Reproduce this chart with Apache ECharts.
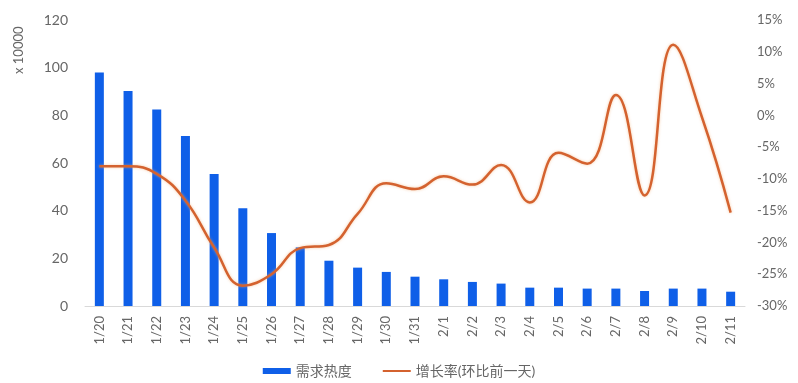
<!DOCTYPE html>
<html>
<head>
<meta charset="utf-8">
<script src="https://cdn.jsdelivr.net/npm/echarts@6/dist/echarts.min.js"></script>
<style>
  html, body { margin: 0; padding: 0; background: #fff; }
  #chart { width: 798px; height: 383px; }
</style>
</head>
<body>
<div id="chart"></div>
<script>
// dates on the x axis
const days = ['1/20','1/21','1/22','1/23','1/24','1/25','1/26','1/27','1/28','1/29','1/30','1/31',
              '2/1','2/2','2/3','2/4','2/5','2/6','2/7','2/8','2/9','2/10','2/11'];

// 需求热度, x 10000
const demand = [98, 90.2, 82.5, 71.3, 55.4, 41, 30.6, 24.6, 19, 16.1, 14.3, 12.3,
                11.2, 10.1, 9.4, 7.7, 7.7, 7.3, 7.3, 6.3, 7.3, 7.3, 6.0];

// 增长率(环比前一天), percent
const growth = [-8.0, -8.0, -9.2, -13.4, -20.8, -26.8, -25.0, -20.9, -20.4, -15.5, -10.7, -11.6,
                -9.6, -10.9, -7.8, -13.7, -5.9, -7.6, 3.2, -12.6, 11.1, -0.3, -15.3];

const barColor = '#0f5fe8';
const lineColor = '#d4622f';
const textColor = '#666';
const fontFam = 'Lato, "Noto Sans CJK SC", sans-serif';

const chart = echarts.init(document.getElementById('chart'));

const option = {
    animation: false,
    textStyle: { fontFamily: fontFam },
    grid: { left: 85, right: 53, top: 20, bottom: 77 },
    legend: {
        bottom: 0,
        left: 'center',
        itemGap: 30,
        itemWidth: 28,
        itemHeight: 6,
        textStyle: { color: textColor, fontSize: 14 },
        data: [
            { name: '需求热度', icon: 'rect' },
            { name: '增长率(环比前一天)', itemStyle: { opacity: 0 } }
        ]
    },
    graphic: [{
        type: 'text',
        x: 12,
        y: 74,
        rotation: Math.PI / 2,
        style: { text: 'x 10000', fill: textColor, fontSize: 13, fontFamily: fontFam }
    }],
    xAxis: {
        type: 'category',
        data: days,
        axisLine: { lineStyle: { color: '#d9d9d9' } },
        axisTick: { show: false },
        axisLabel: { rotate: 90, color: textColor, fontSize: 13, margin: 10, interval: 0 }
    },
    yAxis: [
        {
            type: 'value',
            min: 0, max: 120, interval: 20,
            splitLine: { show: false },
            axisLine: { show: false },
            axisTick: { show: false },
            axisLabel: { color: textColor, fontSize: 14, margin: 17 }
        },
        {
            type: 'value',
            min: -30, max: 15, interval: 5,
            splitLine: { show: false },
            axisLine: { show: false },
            axisTick: { show: false },
            axisLabel: { color: textColor, fontSize: 13, margin: 12, formatter: '{value}%' }
        }
    ],
    series: [
        {
            name: '需求热度',
            type: 'bar',
            data: demand,
            barWidth: 9,
            itemStyle: { color: barColor }
        },
        {
            name: '增长率(环比前一天)',
            type: 'line',
            yAxisIndex: 1,
            data: growth,
            smooth: 0.45,
            showSymbol: false,
            symbol: 'none',
            lineStyle: { color: lineColor, width: 2.5, shadowColor: 'rgba(240,170,110,0.6)', shadowBlur: 3 },
            itemStyle: { color: lineColor }
        }
    ]
};

chart.setOption(option);
</script>
</body>
</html>
